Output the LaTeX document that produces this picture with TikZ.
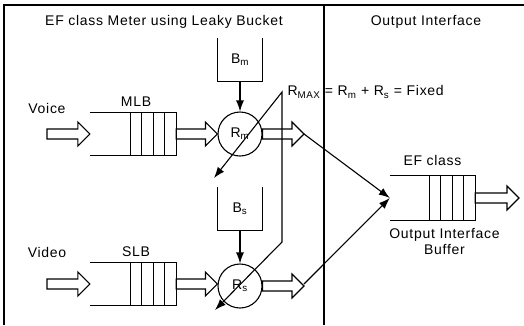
\documentclass[tikz,border=0pt]{standalone}
\usepackage{fontspec}
\setmainfont{Liberation Sans}[LetterSpace=5]
\usetikzlibrary{arrows.meta,positioning,calc}

% hollow block arrow between two points on one row
\newcommand\fatarrow[2]{%
  \draw[fat] let \p1=(#1), \p2=(#2) in
    (\x1,\y1+5pt) -- (\x2-12pt,\y1+5pt) -- (\x2-12pt,\y1+12pt) -- (\x2,\y1)
    -- (\x2-12pt,\y1-12pt) -- (\x2-12pt,\y1-5pt) -- (\x1,\y1-5pt) -- cycle;}
% queue open at the left, four cells at the right
\newcommand\queue[1]{%
  \draw[wire] (#1.north west) -- (#1.north east) -- (#1.south east) -- (#1.south west);
  \foreach \k in {1,...,4}
    \draw[wire] ($(#1.north east)+(-\k*11.5pt,0)$) -- ($(#1.south east)+(-\k*11.5pt,0)$);}
% bucket open at the top
\newcommand\bucket[1]{%
  \draw[wire] (#1.north west) -- (#1.south west) -- (#1.south east) -- (#1.north east);}

\begin{document}
\begin{tikzpicture}[
  x=1pt, y=-1pt,
  font=\fontsize{14}{16}\selectfont,
  wire/.style={line width=1.1pt},
  fat/.style={line width=1.1pt, fill=white},
  queuebox/.style={minimum width=86pt, minimum height=43pt, inner sep=0pt},
  bucketbox/.style={minimum width=44pt, minimum height=43pt, inner sep=0pt},
  ratenode/.style={draw, circle, line width=1.1pt, minimum size=44pt, inner sep=0pt},
  arrow/.style={-{Latex[length=11pt,width=8pt]}, line width=1.1pt}
]
  \useasboundingbox (0,0) rectangle (524,325);
  % frame and divider
  \draw[wire] (4,325) -- (4,5) -- (524,5);
  \draw[wire] (324,5) -- (324,325);
  \node (meter) at (164,22) {EF class Meter using Leaky Bucket};
  \node (outif) at (426,22) {Output Interface};

  % meter side
  \node[queuebox] (mlb) at (133,134) {};
  \node[queuebox] (slb) at (133,284) {};
  \queue{mlb}
  \queue{slb}
  \node[above=2pt of mlb, xshift=3pt] (mlbname) {MLB};
  \node[above=2pt of slb, xshift=3pt] (slbname) {SLB};
  \node (voice) at (47,108) {Voice};
  \node (video) at (47,252) {Video};

  \node[bucketbox] (bm) at (240,59.5) {B\textsubscript{m}};
  \node[bucketbox] (bs) at (240,208.5) {B\textsubscript{s}};
  \bucket{bm}
  \bucket{bs}
  \node[ratenode] (rm) at (240,134) {R\textsubscript{m}};
  \node[ratenode] (rs) at (240,286) {R\textsubscript{s}};
  \draw[arrow] (bm) -- (rm);
  \draw[arrow] (bs) -- (rs);

  \coordinate (vin) at (47,134);
  \coordinate (din) at (47,284);
  \coordinate (mout) at (304,134);
  \coordinate (sout) at (304,284);
  \fatarrow{vin}{mlb.west}
  \fatarrow{din}{slb.west}
  \fatarrow{mlb.east}{rm.west}
  \fatarrow{slb.east}{rs.west}
  \fatarrow{rm.east}{mout}
  \fatarrow{rs.east}{sout}

  % output interface
  \node[queuebox, minimum width=85pt, minimum height=44pt] (efq) at (432.5,198) {};
  \queue{efq}
  \node[above=7pt of efq] (efname) {EF class};
  \node[below=5pt of efq, xshift=12pt, align=center] (efbuf) {Output Interface\\Buffer};
  \coordinate (qout) at (519,198);
  \fatarrow{efq.east}{qout}
  \draw[arrow] (mout) -- (efq.west);
  \draw[arrow] (sout) -- (efq.west);

  % shared rate
  \coordinate (rtop) at (282,92);
  \coordinate (rbend) at (282,242);
  \coordinate (rmtip) at (214,178);
  \coordinate (rstip) at (215,310);
  \draw[wire, {Latex[length=11pt,width=8pt]}-{Latex[length=11pt,width=8pt]}]
    (rmtip) -- (rtop) -- (rbend) -- (rstip);
  \node[anchor=west] (rsum) at (284,92)
    {R\textsubscript{MAX} = R\textsubscript{m} + R\textsubscript{s} = Fixed};
\end{tikzpicture}
\end{document}
